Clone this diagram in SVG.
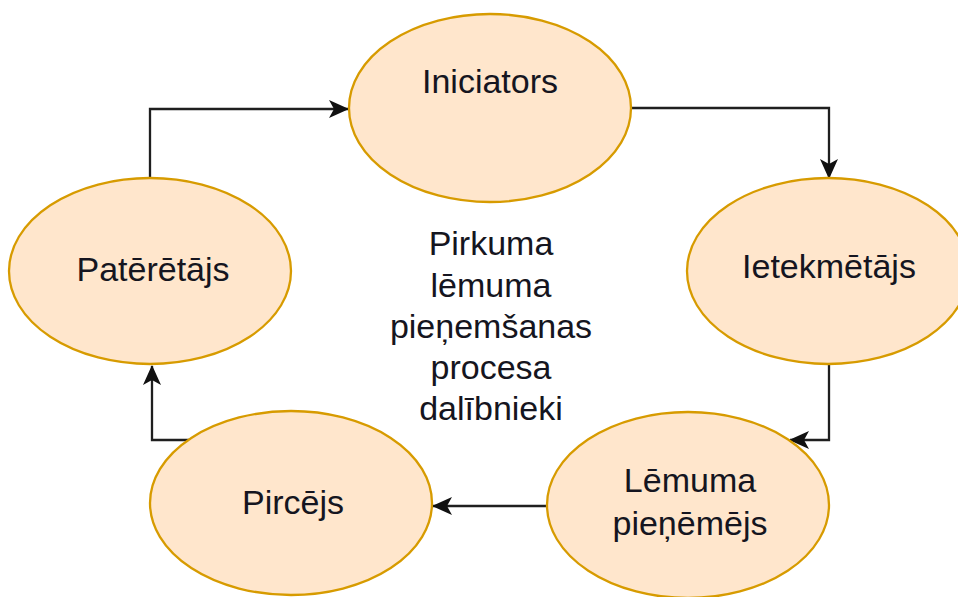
<svg xmlns="http://www.w3.org/2000/svg" width="958" height="597" viewBox="0 0 958 597">
<defs>
<style>
.node ellipse{fill:#ffe6cc;stroke:#d79b00;stroke-width:2.3}
.lbl{font-family:"Liberation Sans",Arial,sans-serif;font-size:34px;fill:#151520;text-anchor:middle}
.edge{fill:none;stroke:#1f1f1f;stroke-width:2.3;marker-end:url(#arr)}
</style>
<marker id="arr" viewBox="0 0 20 18" refX="19" refY="9" markerWidth="20" markerHeight="18" markerUnits="userSpaceOnUse" orient="auto">
<path d="M0,0 L20,9 L0,18 L5,9 Z" fill="#111"/>
</marker>
</defs>
<rect width="958" height="597" fill="#ffffff"/>
<g id="connectors">
<path class="edge" d="M150,178 L150,109 L348,109"/>
<path class="edge" d="M631,108 L829,108 L829,178"/>
<path class="edge" d="M829,364 L829,440 L790,440"/>
<path class="edge" d="M547,506 L433,506"/>
<path class="edge" d="M189,440 L152,440 L152,366"/>
</g>
<g id="iniciators" class="node">
<ellipse cx="490" cy="108" rx="141" ry="94"/>
<text class="lbl" x="490" y="93">Iniciators</text>
</g>
<g id="ietekmetajs" class="node">
<ellipse cx="828" cy="271" rx="141" ry="93"/>
<text class="lbl" x="829" y="278">Ietekmētājs</text>
</g>
<g id="pateretajs" class="node">
<ellipse cx="150" cy="271" rx="141" ry="93"/>
<text class="lbl" x="153" y="281">Patērētājs</text>
</g>
<g id="pircejs" class="node">
<ellipse cx="291" cy="503" rx="141" ry="92"/>
<text class="lbl" x="293" y="514">Pircējs</text>
</g>
<g id="lemuma-pienemejs" class="node">
<ellipse cx="688" cy="505" rx="141" ry="93"/>
<text class="lbl" x="690" y="492">Lēmuma</text>
<text class="lbl" x="690" y="535">pieņēmējs</text>
</g>
<g id="center-label">
<text class="lbl" x="491" y="255">Pirkuma</text>
<text class="lbl" x="491" y="297">lēmuma</text>
<text class="lbl" x="491" y="338">pieņemšanas</text>
<text class="lbl" x="491" y="379">procesa</text>
<text class="lbl" x="491" y="420">dalībnieki</text>
</g>
</svg>
